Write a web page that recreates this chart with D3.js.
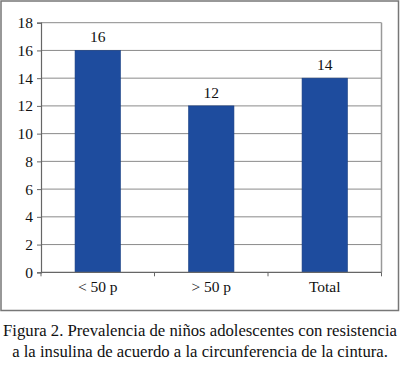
<!DOCTYPE html>
<html>
<head>
<meta charset="utf-8">
<script src="https://cdn.jsdelivr.net/npm/d3@7"></script>
<style>
  body { margin: 0; background: #fff; }
  svg text { fill: #111; }
</style>
</head>
<body>
<svg id="chart" width="400" height="365" font-family="'Liberation Serif', 'Times New Roman', 'DejaVu Serif', serif"></svg>
<script>
// data
const categories = ['< 50 p', '> 50 p', 'Total'];
const values = [16, 12, 14];
const yTicks = [0, 2, 4, 6, 8, 10, 12, 14, 16, 18];
const captionLines = [
  'Figura 2. Prevalencia de niños adolescentes con resistencia',
  'a la insulina de acuerdo a la circunferencia de la cintura.'
];

const svg = d3.select('#chart');
const serif = "'Liberation Serif', 'Times New Roman', 'DejaVu Serif', serif";

// outer frame
svg.append('rect')
   .attr('x', 1).attr('y', 1)
   .attr('width', 397.5).attr('height', 309.5)
   .attr('fill', 'none')
   .attr('stroke', '#777')
   .attr('stroke-width', 1.5);

const plotLeft = 41, plotRight = 381.5, plotTop = 22.7, plotBottom = 272.3;

const x = d3.scaleBand()
    .domain(categories)
    .range([plotLeft, plotRight])
    .paddingInner(0.6)
    .paddingOuter(0.3);

const y = d3.scaleLinear()
    .domain([0, 18])
    .range([plotBottom, plotTop]);

// gridlines
svg.append('g')
   .selectAll('line')
   .data(yTicks.filter(d => d > 0))
   .join('line')
   .attr('x1', plotLeft).attr('x2', plotRight)
   .attr('y1', d => y(d)).attr('y2', d => y(d))
   .attr('stroke', '#8a8a8a')
   .attr('stroke-width', 1);

// plot area right border
svg.append('line')
   .attr('x1', plotRight).attr('x2', plotRight)
   .attr('y1', plotTop).attr('y2', plotBottom)
   .attr('stroke', '#999')
   .attr('stroke-width', 1.5);

// bars
svg.append('g')
   .selectAll('rect')
   .data(values)
   .join('rect')
   .attr('x', (d, i) => x(categories[i]))
   .attr('y', d => y(d))
   .attr('width', x.bandwidth())
   .attr('height', d => y(0) - y(d))
   .attr('fill', '#1e4c9e')
   .attr('stroke', '#173d80')
   .attr('stroke-width', 0.6);

// value labels
svg.append('g')
   .selectAll('text')
   .data(values)
   .join('text')
   .attr('x', (d, i) => x(categories[i]) + x.bandwidth() / 2)
   .attr('y', d => y(d) - 8)
   .attr('text-anchor', 'middle')
   .attr('font-family', serif)
   .attr('font-size', 15.5)
   .text(d => d);

// y axis
const yAxis = d3.axisLeft(y)
    .tickValues(yTicks)
    .tickSize(4)
    .tickPadding(4)
    .tickFormat(d3.format('d'));

const gy = svg.append('g')
   .attr('transform', `translate(${plotLeft},0)`)
   .call(yAxis)
   .attr('font-family', serif)
   .attr('font-size', 15.5);
gy.select('.domain').attr('stroke', '#666').attr('stroke-width', 1.2);
gy.selectAll('.tick line').attr('stroke', '#666');
gy.selectAll('.tick text').attr('fill', '#111');

// x axis
const gx = svg.append('g')
   .attr('transform', `translate(0,${plotBottom})`);
gx.append('line')
  .attr('x1', plotLeft).attr('x2', plotRight)
  .attr('stroke', '#666').attr('stroke-width', 1.2);
const boundaries = [plotLeft].concat(categories.map(c => x(c) + x.bandwidth() / 2 + x.step() / 2));
gx.selectAll('.xt')
  .data(boundaries)
  .join('line')
  .attr('class', 'xt')
  .attr('x1', d => d).attr('x2', d => d)
  .attr('y1', 0).attr('y2', 4)
  .attr('stroke', '#666');
gx.selectAll('text')
  .data(categories)
  .join('text')
  .attr('x', d => x(d) + x.bandwidth() / 2)
  .attr('y', 20)
  .attr('text-anchor', 'middle')
  .attr('font-family', serif)
  .attr('font-size', 15.5)
  .text(d => d);

// caption, sized so the first line spans about 394px
const caption = svg.append('g')
   .attr('font-family', serif)
   .attr('font-size', 17);
caption.selectAll('text')
   .data(captionLines)
   .join('text')
   .attr('x', 200)
   .attr('y', (d, i) => 336 + i * 21)
   .attr('text-anchor', 'middle')
   .text(d => d);
const w = caption.select('text').node().getComputedTextLength();
if (w > 0) caption.attr('font-size', 17 * 394 / w);
</script>
</body>
</html>
